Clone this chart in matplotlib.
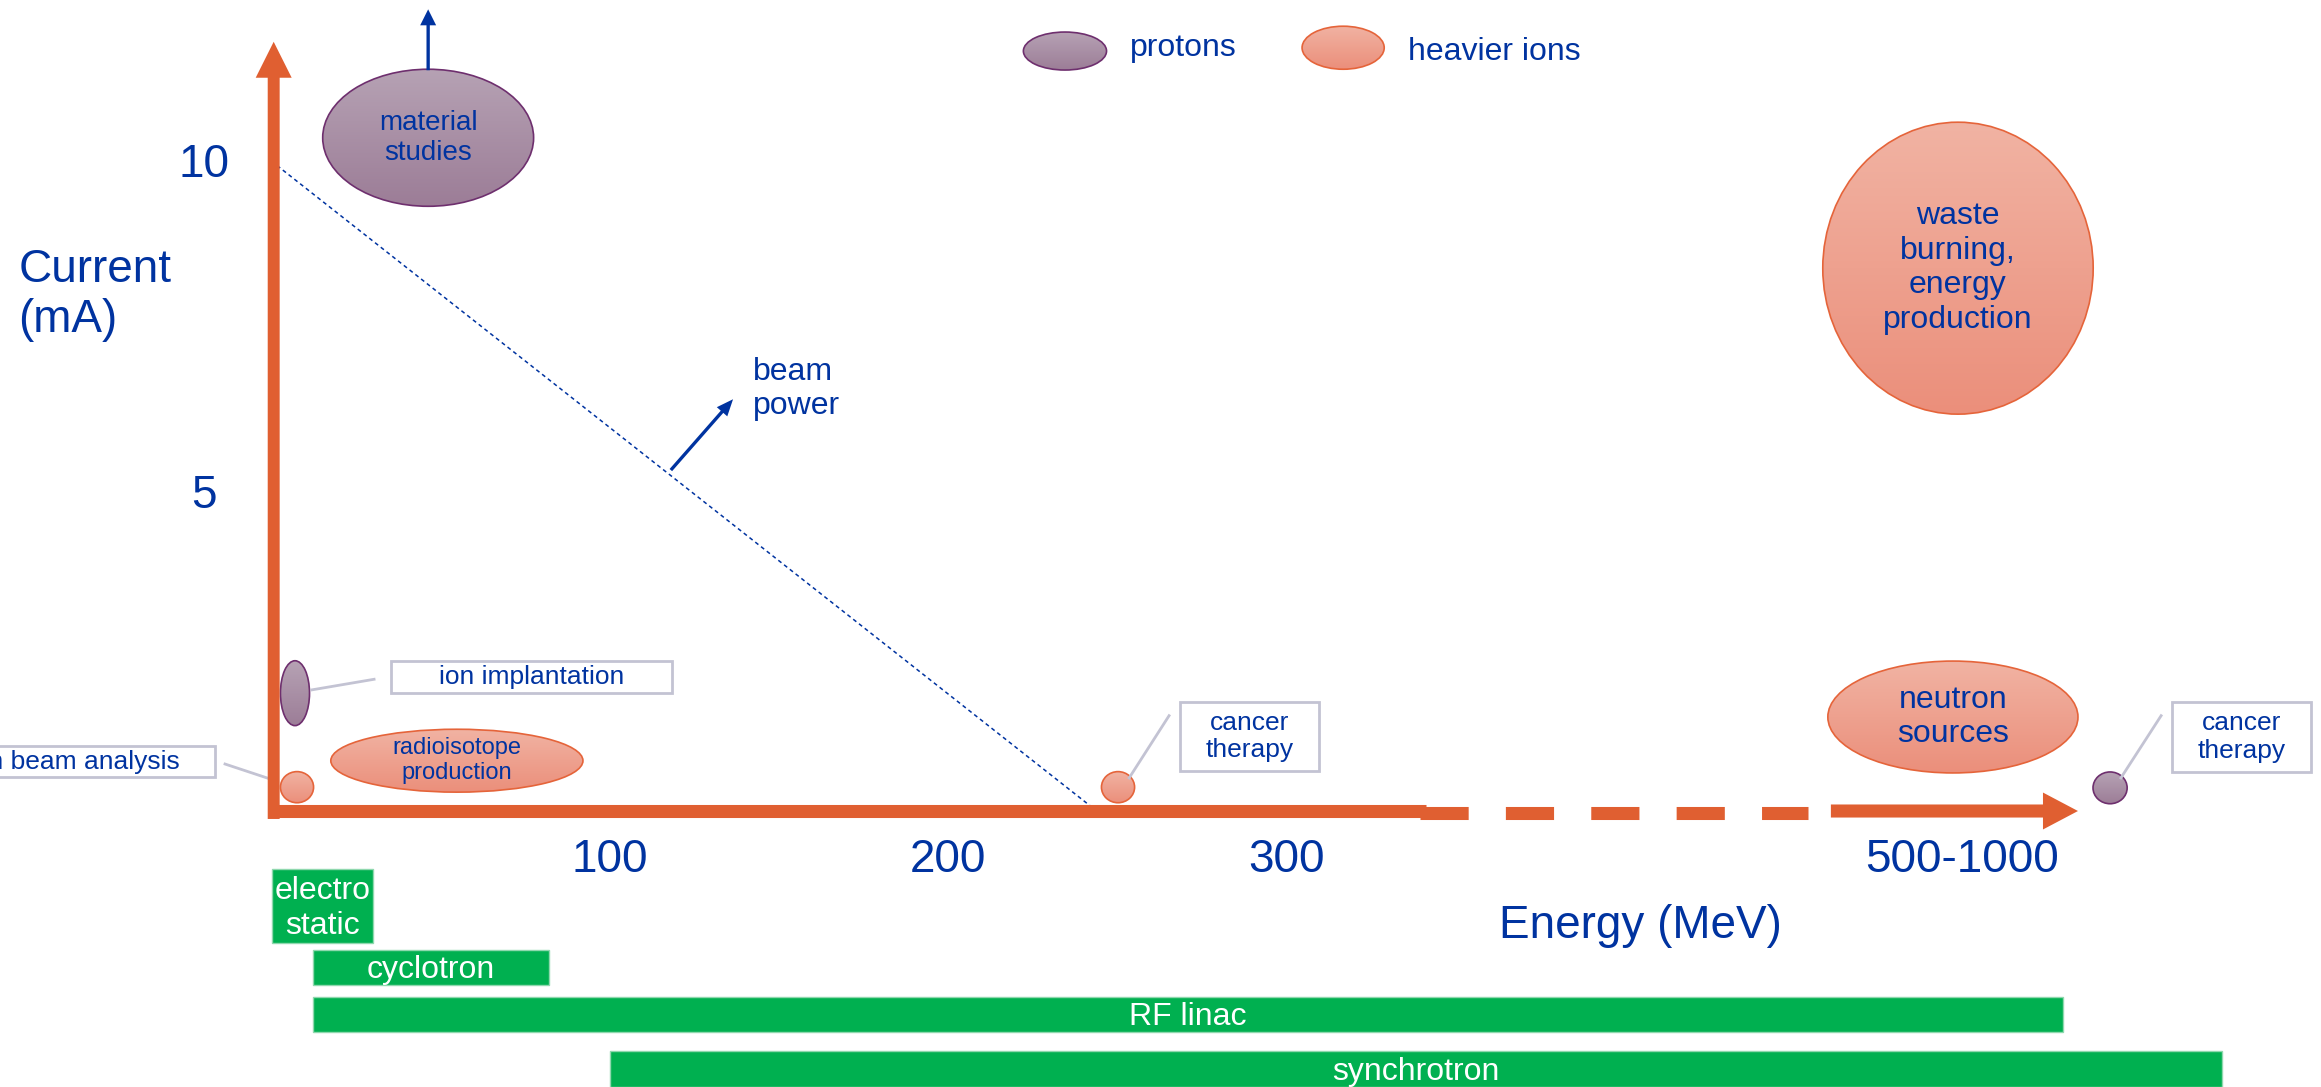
import matplotlib.pyplot as plt
import numpy as np
from matplotlib.colors import LinearSegmentedColormap
from matplotlib.patches import Ellipse, FancyArrowPatch, Rectangle

plt.rcParams["font.family"] = ["Liberation Sans", "DejaVu Sans"]

BLUE = "#0033A0"
ORANGE = "#E05F31"
GREEN = "#00B050"
GREY = "#C3C3D3"

# application areas: energy (MeV, schematic scale), beam current (mA), particle type
app_names = [
    "material\nstudies",
    "waste\nburning,\nenergy\nproduction",
    "neutron\nsources",
    "radioisotope\nproduction",
    "ion implantation",
    "ion beam analysis",
    "cancer\ntherapy",
    "cancer\ntherapy",
]
app_energy = [46.2, 498.8, 497.3, 54.7, 6.8, 7.4, 250.3, 543.8]
app_current = [10.17, 8.2, 1.42, 0.76, 1.78, 0.36, 0.36, 0.35]
app_particle = ["p", "ion", "ion", "ion", "p", "ion", "ion", "p"]

# accelerator types and the energy range they reach
acc_names = ["electro\nstatic", "cyclotron", "RF linac", "synchrotron"]
acc_start = [0, 12, 12, 100]
acc_end = [30, 82, 530, 577]

energy_ticks = [100, 200, 300, 500]
energy_labels = ["100", "200", "300", "500-1000"]
current_ticks = [5, 10]

# constant beam power guide line
power_energy = [1.5, 244]
power_current = [9.75, 0]

# blob sizes (energy width, current height)
blob_size = [(62.4, 2.07), (80, 4.41), (74, 1.69), (74.6, 0.95),
             (8.6, 0.98), (9.8, 0.47), (9.8, 0.47), (10.1, 0.48)]
blob_font = [20, 23, 23, 17, None, None, None, None]

# callout boxes: (app index, x0, x1, y0, y1, leader start, leader end, fontsize)
callouts = [
    (4, 35.2, 118.3, 1.78, 2.27, (11.8, 1.83), (30.2, 1.99), 19),
    (5, -100.6, -16.9, 0.51, 0.98, (-0.3, 0.48), (-13.9, 0.71), 19),
    (6, 268.6, 309.8, 0.60, 1.65, (253.6, 0.50), (265.4, 1.44), 19),
    (7, 562.1, 603.3, 0.59, 1.65, (547.0, 0.50), (558.9, 1.44), 19),
]

fills = {
    "p": ("#B6A2B4", "#9C7D97", "#6E2F6E"),
    "ion": ("#F1B3A3", "#EB8F7B", "#E5643A"),
}


def draw_blob(ax, x, y, w, h, kind):
    top, bottom, edge = fills[kind]
    cmap = LinearSegmentedColormap.from_list(kind, [top, bottom])
    shape = Ellipse((x, y), w, h, facecolor="none", edgecolor=edge, lw=1.2, zorder=3)
    ax.add_patch(shape)
    img = ax.imshow(
        np.linspace(0, 1, 128).reshape(-1, 1),
        cmap=cmap,
        aspect="auto",
        origin="upper",
        extent=(x - w / 2, x + w / 2, y - h / 2, y + h / 2),
        zorder=2,
    )
    img.set_clip_path(shape)


def arrow(ax, start, end, color, tail, head_w, head_l, z=4):
    style = f"simple,head_length={head_l},head_width={head_w},tail_width={tail}"
    ax.add_patch(FancyArrowPatch(start, end, arrowstyle=style, mutation_scale=1,
                                 shrinkA=0, shrinkB=0, color=color, lw=0, zorder=z))


fig = plt.figure(figsize=(23.21, 10.87), dpi=100)
ax = fig.add_axes([0, 0, 1, 1])

# axes drawn as thick orange arrows, the far energy range is dashed
arrow(ax, (0.5, -0.12), (0.5, 11.62), ORANGE, 8.6, 25.9, 25.9)
ax.plot([-1.2, 341.4], [0, 0], color=ORANGE, lw=9.4, solid_capstyle="butt", zorder=4)
ax.plot([339.6, 454.4], [-0.03, -0.03], color=ORANGE, lw=9.4, ls=(0, (3.69, 2.85)),
        dash_capstyle="butt", zorder=4)
arrow(ax, (461.2, 0), (534.3, 0), ORANGE, 9.4, 26.6, 25.2)

for v in current_ticks:
    ax.text(-20.1, v - 0.24, str(v), color=BLUE, fontsize=33, ha="center", va="center")
for v, lab in zip(energy_ticks, energy_labels):
    ax.text(v, -0.735, lab, color=BLUE, fontsize=33, ha="center", va="center")
ax.text(-75.1, 8.51, "Current\n(mA)", color=BLUE, fontsize=33, ha="left", va="top",
        linespacing=1.2)
ax.text(405, -1.74, "Energy (MeV)", color=BLUE, fontsize=33, ha="center", va="center")

# beam power
ax.plot(power_energy, power_current, color=BLUE, lw=1.1, ls=(0, (2.6, 2.2)), zorder=3)
arrow(ax, (118.0, 5.15), (136.4, 6.22), BLUE, 2.4, 10, 12)
ax.text(142.3, 6.86, "beam\npower", color=BLUE, fontsize=23, ha="left", va="top",
        linespacing=1.2)

# application blobs
for i in range(len(app_names)):
    w, h = blob_size[i]
    draw_blob(ax, app_energy[i], app_current[i], w, h, app_particle[i])
    if blob_font[i]:
        ax.text(app_energy[i], app_current[i], app_names[i], color=BLUE,
                fontsize=blob_font[i], ha="center", va="center", linespacing=1.2, zorder=5)

arrow(ax, (46.2, 11.19), (46.2, 12.11), BLUE, 2.4, 11.5, 11.5)

for idx, x0, x1, y0, y1, p0, p1, fs in callouts:
    ax.add_patch(Rectangle((x0, y0), x1 - x0, y1 - y0, facecolor="white",
                           edgecolor=GREY, lw=2, zorder=3))
    ax.plot([p0[0], p1[0]], [p0[1], p1[1]], color=GREY, lw=2, zorder=3)
    ax.text((x0 + x1) / 2, (y0 + y1) / 2, app_names[idx], color=BLUE, fontsize=fs,
            ha="center", va="center", linespacing=1.2, zorder=5)

# legend
draw_blob(ax, 234.6, 11.48, 24.6, 0.574, "p")
ax.text(253.8, 11.53, "protons", color=BLUE, fontsize=23, ha="left", va="center")
draw_blob(ax, 316.9, 11.53, 24.3, 0.65, "ion")
ax.text(336.1, 11.47, "heavier ions", color=BLUE, fontsize=23, ha="left", va="center")

# accelerator energy ranges
rows = [-1.435, -2.36, -3.07, -3.90]
heights = [1.12, 0.53, 0.53, 0.54]
starts = np.array(acc_start)
ends = np.array(acc_end)
ax.barh(rows, ends - starts, left=starts, height=heights, color=GREEN,
        edgecolor="#8FD8AE", lw=1, zorder=2)
for r, s, e, name in zip(rows, starts, ends, acc_names):
    ax.text((s + e) / 2, r - 0.04, name, color="white", fontsize=23, ha="center",
            va="center", linespacing=1.2, zorder=5)

ax.set_xlim(-80.47, 606.2)
ax.set_ylim(-4.169, 12.251)
ax.set_axis_off()

fig.savefig("out.png", dpi=100)
